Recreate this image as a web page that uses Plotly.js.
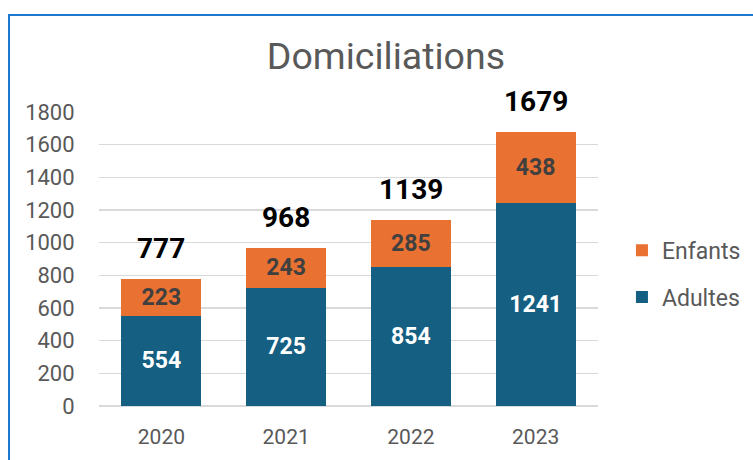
<!DOCTYPE html>
<html>
<head>
<meta charset="utf-8">
<script src="https://cdn.plot.ly/plotly-3.0.1.min.js"></script>
<style>
  html, body { margin: 0; padding: 0; background: #fff; overflow: hidden; }
  #chart { position: absolute; left: 0; top: 0; width: 753px; height: 460px; }
  #frame { position: absolute; left: 8px; top: 14px; width: 780px; height: 480px;
           border: 2px solid #1f77d0; pointer-events: none; box-sizing: border-box; }
</style>
</head>
<body>
<div id="chart"></div>
<div id="frame"></div>
<script>
const years = ['2020', '2021', '2022', '2023'];
const adultes = [554, 725, 854, 1241];
const enfants = [223, 243, 285, 438];
const yTicks = [0, 200, 400, 600, 800, 1000, 1200, 1400, 1600, 1800];

const totals = years.map((_, i) => adultes[i] + enfants[i]);
const xIdx = years.map((_, i) => i);

const FONT = 'Roboto, "Open Sans", sans-serif';

const traces = [
  {
    type: 'bar', name: 'Adultes', x: xIdx, y: adultes, width: 0.64,
    marker: { color: '#156082' },
    text: adultes.map(String), textposition: 'inside', insidetextanchor: 'middle',
    textangle: 0, constraintext: 'none',
    textfont: { family: FONT, size: 23, color: '#ffffff', weight: 'bold' },
    legendgroup: 'b', legendrank: 2, hoverinfo: 'skip'
  },
  {
    type: 'bar', name: 'Enfants', x: xIdx, y: enfants, width: 0.64,
    marker: { color: '#E97132' },
    text: enfants.map(String), textposition: 'inside', insidetextanchor: 'middle',
    textangle: 0, constraintext: 'none',
    textfont: { family: FONT, size: 23, color: '#404040', weight: 'bold' },
    legendgroup: 'a', legendrank: 1, hoverinfo: 'skip'
  }
];

const annotations = xIdx.map(i => ({
  x: i, y: totals[i], xref: 'x', yref: 'y',
  text: '<b>' + totals[i] + '</b>', showarrow: false,
  yanchor: 'bottom', yshift: 12,
  font: { family: FONT, size: 28, color: '#000000' }
}));

const layout = {
  width: 753, height: 460,
  margin: { l: 99, r: 155, t: 112, b: 54, autoexpand: false },
  paper_bgcolor: '#ffffff', plot_bgcolor: '#ffffff',
  barmode: 'stack',
  title: {
    text: 'Domiciliations', x: 0.575, xref: 'paper', xanchor: 'center',
    y: 57, yref: 'container', yanchor: 'middle',
    font: { family: FONT, size: 37.5, color: '#595959' }
  },
  xaxis: {
    type: 'linear', range: [-0.5, 3.5], autorange: false,
    tickvals: xIdx, ticktext: years,
    showgrid: false, zeroline: false, showline: false,
    ticks: 'outside', ticklen: 12, tickcolor: 'rgba(0,0,0,0)',
    tickfont: { family: FONT, size: 21, color: '#595959' }
  },
  yaxis: {
    range: [0, 1800], autorange: false, tickvals: yTicks, ticktext: yTicks.map(String),
    showgrid: true, gridcolor: '#d9d9d9', gridwidth: 1.3,
    zeroline: true, zerolinecolor: '#d9d9d9', zerolinewidth: 1.3,
    showline: false, ticks: 'outside', ticklen: 19, tickcolor: 'rgba(0,0,0,0)',
    tickfont: { family: FONT, size: 22, color: '#595959' }
  },
  legend: {
    x: 1.048, xanchor: 'left', y: 0.45, yanchor: 'middle',
    traceorder: 'grouped', tracegroupgap: 14,
    font: { family: FONT, size: 23, color: '#595959' },
    bgcolor: 'rgba(0,0,0,0)'
  },
  annotations: annotations,
  showlegend: true
};

Plotly.newPlot('chart', traces, layout, { displayModeBar: false, staticPlot: true });
</script>
</body>
</html>
